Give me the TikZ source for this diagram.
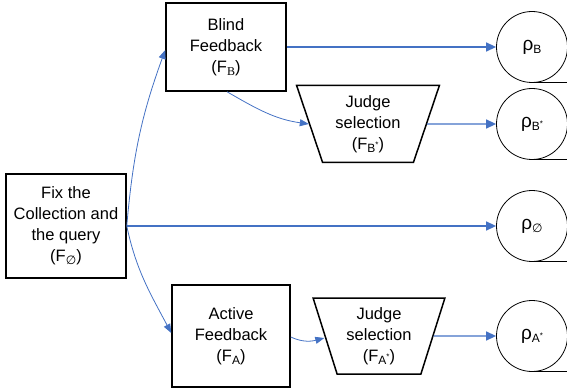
\documentclass[tikz,border=0pt]{standalone}
\usepackage{fontspec}
\setmainfont{Liberation Sans}
\newfontfamily\dejavu{DejaVu Sans}
\newfontfamily\serifB{Liberation Serif}
\usetikzlibrary{arrows.meta,shapes.geometric}
\definecolor{arrblue}{HTML}{4472C4}
\newcommand\subx[1]{\raisebox{-0.35ex}{\fontsize{12}{12}\selectfont #1}}
\newcommand\starx{\raisebox{0.7ex}{\fontsize{8}{8}\selectfont *}}
\begin{document}
\begin{tikzpicture}[x=1pt,y=-1pt,
  boxn/.style={draw=black,line width=1.5pt,align=center,font=\fontsize{16.5}{21}\selectfont,inner sep=0pt},
  judge/.style={draw=black,line width=1.5pt,align=center,font=\fontsize{16.5}{21}\selectfont,
     trapezium,shape border rotate=180,trapezium left angle=72,trapezium right angle=72,
     trapezium stretches=true,inner sep=0pt},
  rho/.style={draw=black,line width=0.8pt,circle,minimum size=71pt,inner sep=0pt,font=\fontsize{19}{19}\selectfont},
  tail/.style={draw=black,line width=0.9pt},
  thick arrow/.style={draw=arrblue,line width=1.4pt,-{Triangle[length=10pt,width=9pt]}},
  thin arrow/.style={draw=arrblue,line width=0.8pt,-{Triangle[length=9pt,width=7pt]}}
]
\useasboundingbox (0,0) rectangle (567,390);
\coordinate (edge) at (567,0);

\node[boxn,minimum width=120pt,minimum height=104pt] (fix) at (66,226) {Fix the\\Collection and\\the query\\(F\subx{\dejavu ∅})};
\node[boxn,minimum width=120pt,minimum height=88pt] (blind) at (226,47) {Blind\\Feedback\\(F\subx{\serifB B})};
\node[boxn,minimum width=118pt,minimum height=102pt] (active) at (231,336) {Active\\Feedback\\(F\subx{A})};
\node[judge,minimum width=143pt,minimum height=77pt] (jb) at (368,124) {Judge\\selection\\(F\subx{B\starx})};
\node[judge,minimum width=132pt,minimum height=76pt] (ja) at (379,336) {Judge\\selection\\(F\subx{A\starx})};

\node[rho] (rb) at (532,47) {ρ\subx{B}};
\node[rho] (rbs) at (532,124) {ρ\subx{B\starx}};
\node[rho] (r0) at (532,226) {ρ\subx{\dejavu ∅}};
\node[rho] (ras) at (532,336) {ρ\subx{A\starx}};

\foreach \n in {rb,rbs,r0,ras} \draw[tail] (\n.south) -- (\n.south -| edge);

\draw[thick arrow] (blind.east) -- (rb.west);
\draw[thick arrow] (jb.east) -- (rbs.west);
\draw[thick arrow] (fix.east) -- (r0.west);
\draw[thick arrow] (ja.east) -- (ras.west);

\draw[thin arrow] (fix.east) to[out=85,in=250] ([yshift=-3pt]blind.west);
\draw[thin arrow] (fix.east) to[out=-78,in=118] ([yshift=3pt]active.west);
\draw[thin arrow] ([xshift=1pt]blind.south) to[out=-30,in=172] (jb.west);
\draw[thin arrow] ([yshift=-1pt]active.east) to[out=-25,in=195] ([yshift=-2pt]ja.west);
\end{tikzpicture}
\end{document}
